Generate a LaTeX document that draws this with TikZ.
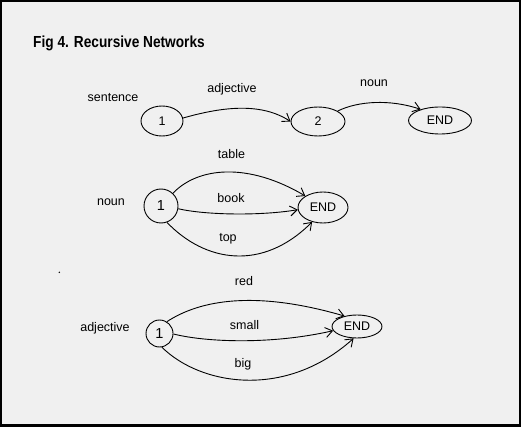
\documentclass[tikz,border=0pt]{standalone}
\usepackage{fontspec}
\setmainfont{Liberation Sans}
\usetikzlibrary{shapes.geometric,arrows.meta}
\definecolor{bg}{HTML}{F0F0F0}
\begin{document}
\begin{tikzpicture}[x=1pt,y=-1pt,
  lbl/.style={anchor=base,font=\fontsize{12.5}{14}\selectfont,inner sep=0},
  state/.style={draw,ellipse,inner sep=0,line width=0.9pt,font=\fontsize{12.5}{14}\selectfont},
  bigstate/.style={draw,circle,inner sep=0,line width=0.9pt,font=\fontsize{14.5}{16}\selectfont},
  edge/.style={line width=0.9pt,-{Straight Barb[length=7pt,width=10pt]}}]
\useasboundingbox (0,0) rectangle (521,427);
\fill[black] (0,0) rectangle (521,427);
\fill[bg] (2,2) rectangle (519,424);

% title
\node[anchor=base west,inner sep=0] (title) at (33,48)
  {\scalebox{0.855}[1]{\fontsize{16}{18}\selectfont\bfseries Fig 4. Recursive Networks}};

% stray dot
\fill[black] (59.3,272.3) circle (0.8);

% top network
\node[lbl] (lsent) at (113,101.5) {sentence};
\node[state,minimum width=42pt,minimum height=30pt] (s1) at (162,121) {1};
\node[state,minimum width=54pt,minimum height=29pt] (s2) at (318,121.5) {2};
\node[state,minimum width=63pt,minimum height=27pt] (s3) at (440,120.5) {END};
\node[lbl] (ladj) at (232,93) {adjective};
\node[lbl] (lnoun) at (374,87) {noun};
\draw[edge] (s1.8) .. controls (225,106) and (262,103) .. (s2.west);
\draw[edge] (s2.28) .. controls (358,101) and (390,99) .. (s3.150);

% noun network
\node[lbl] (nlab) at (111,206) {noun};
\node[bigstate,minimum size=34pt] (n1) at (161,206) {1};
\node[state,minimum width=50pt,minimum height=31pt] (n2) at (323,207.5) {END};
\node[lbl] (ltable) at (231.5,159) {table};
\node[lbl] (lbook) at (231,202.7) {book};
\node[lbl] (ltop) at (228,241.5) {top};
\draw[edge] (n1.47) .. controls (198,167) and (248,162) .. (n2.147);
\draw[edge] (n1.-9) .. controls (205,215) and (260,216) .. (n2.185);
\draw[edge] (n1.-70) .. controls (205,262) and (262,272) .. (n2.233);

% adjective network
\node[lbl] (alab) at (105,331.7) {adjective};
\node[bigstate,minimum size=27pt] (a1) at (159.5,333.5) {1};
\node[state,minimum width=50pt,minimum height=23pt] (a2) at (357,326.5) {END};
\node[lbl] (lred) at (244,285) {red};
\node[lbl] (lsmall) at (244.5,329) {small};
\node[lbl] (lbig) at (243,367) {big};
\draw[edge] (a1.58) .. controls (200,300) and (255,290) .. (a2.140);
\draw[edge] (a1.-2) .. controls (205,342) and (270,345) .. (a2.190);
\draw[edge] (a1.-80) .. controls (200,385) and (285,400) .. (a2.254);
\end{tikzpicture}
\end{document}
